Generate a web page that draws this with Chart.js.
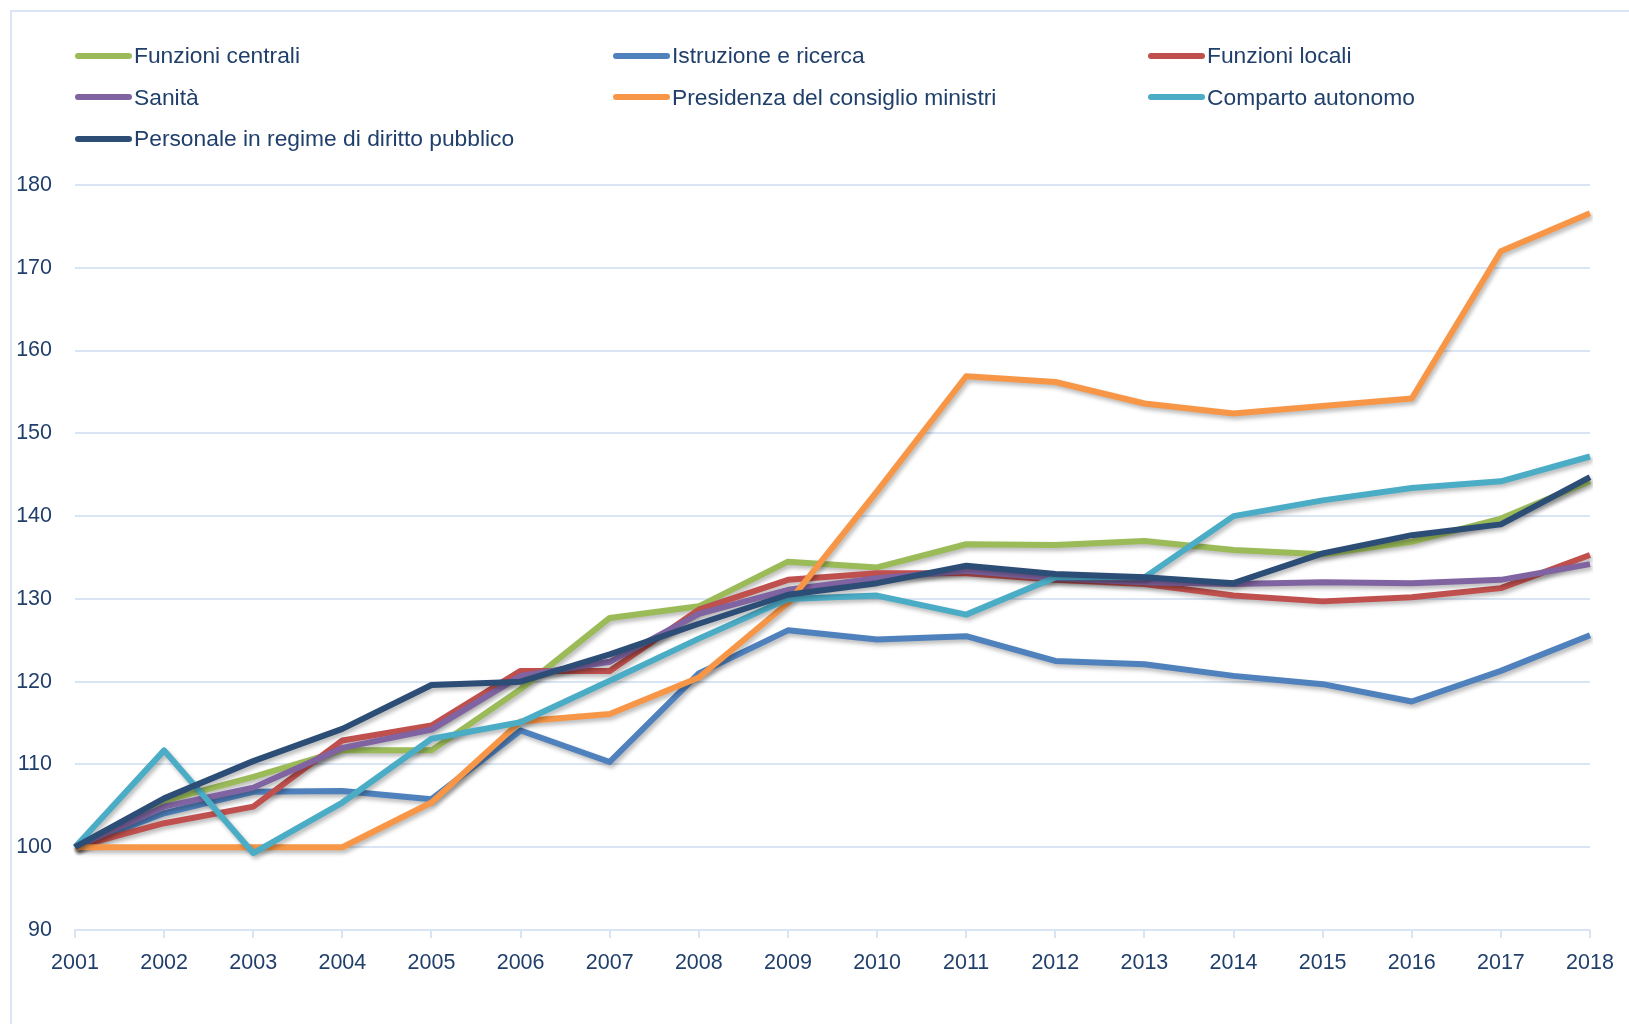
<!DOCTYPE html>
<html>
<head>
<meta charset="utf-8">
<script src="https://cdn.jsdelivr.net/npm/chart.js@4/dist/chart.umd.min.js"></script>
<style>
  html, body { margin: 0; padding: 0; background: #fff; }
  body { width: 1629px; height: 1024px; position: relative; overflow: hidden; font-family: "Liberation Sans", Arial, sans-serif; }
  #frame { position: absolute; left: 10px; top: 10px; width: 1700px; height: 1100px; border: 2px solid #DAE6F5; box-sizing: border-box; }
  #wrap { position: absolute; left: 0; top: 0; width: 1629px; height: 1024px; }
  #legend { position: absolute; left: 75px; top: 35px; display: grid; grid-template-columns: 538px 535px 400px; grid-auto-rows: 41.6px; }
  .item { display: flex; align-items: center; font-size: 22.8px; color: #203F6B; white-space: nowrap; }
  .swatch { width: 57px; height: 6px; border-radius: 3px; margin-right: 2px; }
</style>
</head>
<body>
<div id="frame"></div>
<div id="wrap"><canvas id="c" width="1629" height="1024"></canvas></div>
<div id="legend"></div>
<script>
const years = ["2001","2002","2003","2004","2005","2006","2007","2008","2009","2010","2011","2012","2013","2014","2015","2016","2017","2018"];
const yTicks = [90,100,110,120,130,140,150,160,170,180];

const funzioniCentrali = [100,105.6,108.5,111.7,111.7,119.1,127.7,129.1,134.5,133.8,136.6,136.5,137.0,135.9,135.4,136.9,139.7,144.2];
const istruzioneRicerca = [100,104.1,106.7,106.8,105.8,114.1,110.3,121.0,126.2,125.1,125.5,122.5,122.1,120.7,119.7,117.6,121.3,125.6];
const funzioniLocali = [100,102.9,104.9,112.9,114.7,121.3,121.3,128.7,132.3,133.1,133.1,132.3,131.8,130.4,129.7,130.2,131.3,135.3];
const sanita = [100,104.9,107.2,112.0,114.2,120.7,122.4,128.2,131.1,132.5,133.4,132.5,132.0,131.8,132.0,131.9,132.3,134.2];
const presidenza = [100,100,100,100,105.4,115.2,116.1,120.5,129.5,143.0,156.9,156.2,153.6,152.4,153.3,154.2,172.0,176.6];
const comparto = [100,111.7,99.3,105.4,113.1,115.1,120.1,125.2,130.0,130.4,128.1,132.6,132.6,140.0,141.9,143.4,144.2,147.2];
const personale = [100,105.9,110.4,114.3,119.6,120.0,123.3,127.0,130.5,131.9,134.0,133.0,132.6,131.9,135.5,137.7,139.0,144.7];

const seriesNames = ["Funzioni centrali","Istruzione e ricerca","Funzioni locali","Sanità","Presidenza del consiglio ministri","Comparto autonomo","Personale in regime di diritto pubblico"];
const seriesData = [funzioniCentrali, istruzioneRicerca, funzioniLocali, sanita, presidenza, comparto, personale];
const seriesColors = ["#9BBB59","#4F81BD","#C0504D","#8064A2","#F79646","#4BACC6","#2C4D75"];

const textColor = "#203F6B";
const gridColor = "#D9E5F4";
const font = { family: "Liberation Sans, Arial, sans-serif", size: 21.5 };

const shadowPlugin = {
  id: 'shadow',
  beforeDatasetDraw(chart) {
    const ctx = chart.ctx;
    ctx.save();
    ctx.shadowColor = 'rgba(0,0,0,0.28)';
    ctx.shadowBlur = 4;
    ctx.shadowOffsetX = 2;
    ctx.shadowOffsetY = 3;
  },
  afterDatasetDraw(chart) { chart.ctx.restore(); }
};

const chart = new Chart(document.getElementById('c'), {
  type: 'line',
  data: {
    labels: years,
    datasets: seriesNames.map((n, i) => ({
      label: n,
      data: seriesData[i],
      borderColor: seriesColors[i],
      backgroundColor: seriesColors[i],
      borderWidth: 6,
      pointRadius: 0,
      tension: 0,
      fill: false,
      borderJoinStyle: 'round',
      order: seriesNames.length - i
    }))
  },
  options: {
    responsive: false,
    animation: false,
    devicePixelRatio: 1,
    layout: { padding: { left: 0, right: 39, top: 185, bottom: 34 } },
    plugins: { legend: { display: false }, tooltip: { enabled: false } },
    scales: {
      x: {
        type: 'category',
        offset: false,
        grid: { drawOnChartArea: false, drawTicks: true, tickLength: 8, color: gridColor, lineWidth: 2 },
        border: { display: true, color: gridColor, width: 2 },
        ticks: { color: textColor, font: font, padding: 12, maxRotation: 0, autoSkip: false },
        afterFit(scale) { scale.height = 60; }
      },
      y: {
        min: yTicks[0],
        max: yTicks[yTicks.length - 1],
        afterBuildTicks(scale) { scale.ticks = yTicks.map(v => ({ value: v })); },
        grid: { drawTicks: false, color: gridColor, lineWidth: 2 },
        border: { display: false },
        ticks: { color: textColor, font: font, padding: 23 },
        afterFit(scale) { scale.width = 75; }
      }
    }
  },
  plugins: [shadowPlugin]
});

const legend = document.getElementById('legend');
chart.data.datasets.forEach(ds => {
  const it = document.createElement('div');
  it.className = 'item';
  const sw = document.createElement('span');
  sw.className = 'swatch';
  sw.style.background = ds.borderColor;
  const tx = document.createElement('span');
  tx.textContent = ds.label;
  it.appendChild(sw);
  it.appendChild(tx);
  legend.appendChild(it);
});
</script>
</body>
</html>
